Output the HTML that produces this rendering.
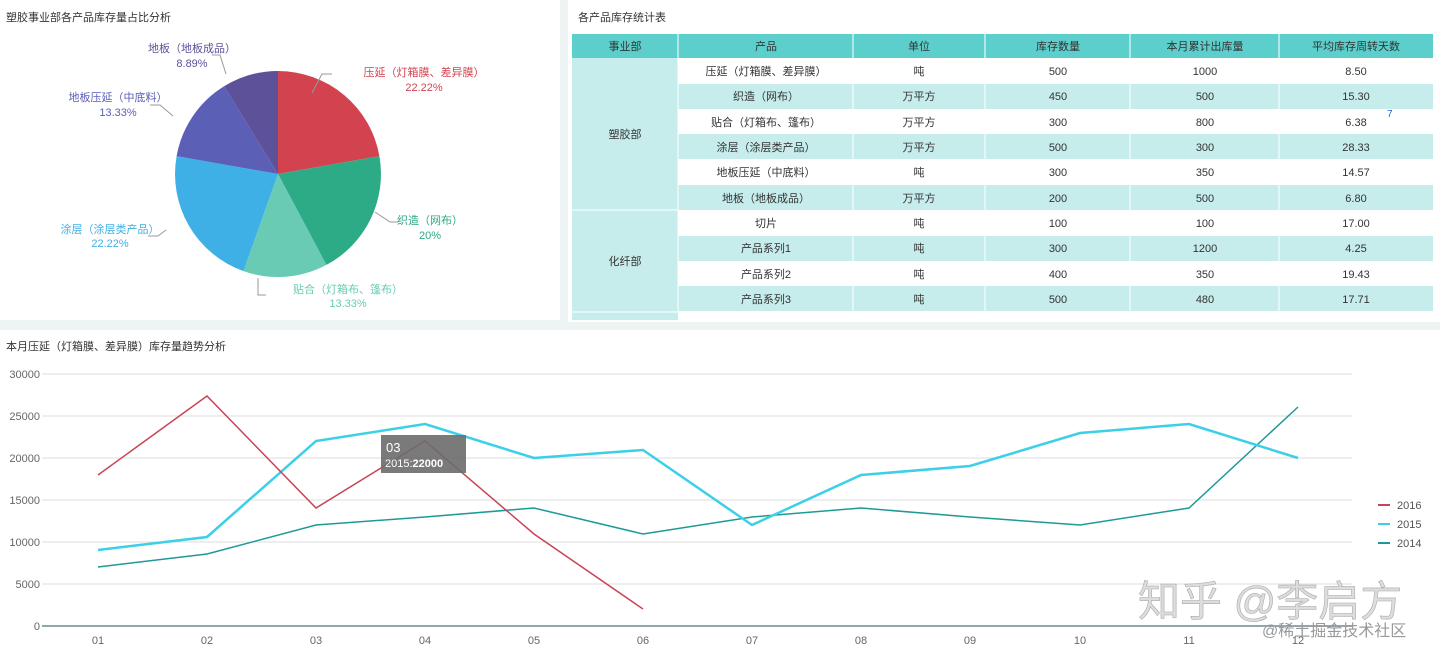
<!DOCTYPE html>
<html><head><meta charset="utf-8"><style>
body{margin:0;width:1440px;height:658px;background:#eef3f4;overflow:hidden;font-family:"Liberation Sans","Noto Sans CJK SC",sans-serif;}
</style></head><body>
<svg width="1440" height="658" xmlns="http://www.w3.org/2000/svg" style="position:absolute;left:0;top:0;font-family:'Liberation Sans','Noto Sans CJK SC',sans-serif">
<rect x="0" y="0" width="560" height="320" fill="#fff"/>
<rect x="568" y="0" width="872" height="322" fill="#fff"/>
<rect x="0" y="330" width="1440" height="328" fill="#fff"/>
<text x="6" y="21" font-size="11" fill="#333">塑胶事业部各产品库存量占比分析</text>
<text x="578" y="21" font-size="11" fill="#333">各产品库存统计表</text>
<text x="6" y="350" font-size="11" fill="#333">本月压延（灯箱膜、差异膜）库存量趋势分析</text>
<g transform="translate(278,174)">
<path d="M0,0 L0,-103 A103,103 0 0 1 101.4,-17.9 Z" fill="#d2434f"/>
<path d="M0,0 L101.4,-17.9 A103,103 0 0 1 48.4,90.9 Z" fill="#2daa86"/>
<path d="M0,0 L48.4,90.9 A103,103 0 0 1 -34.5,97.1 Z" fill="#6acbb4"/>
<path d="M0,0 L-34.5,97.1 A103,103 0 0 1 -101.4,-17.9 Z" fill="#3fb0e6"/>
<path d="M0,0 L-101.4,-17.9 A103,103 0 0 1 -53.9,-87.7 Z" fill="#5b5fb5"/>
<path d="M0,0 L-53.9,-87.7 A103,103 0 0 1 0,-103 Z" fill="#5d519a"/>
</g>
<g fill="none" stroke="#999" stroke-width="1">
<polyline points="312,93 322,74 332,74"/>
<polyline points="375,212 390,222 398,222"/>
<polyline points="258,278 258,295 266,295"/>
<polyline points="166,230 158,236 148,236"/>
<polyline points="173,116 160,105 150,105"/>
<polyline points="226,74 220,55 212,55"/>
</g>
<g font-size="11" text-anchor="middle">
<text x="424" y="76" fill="#d2434f">压延（灯箱膜、差异膜）</text><text x="424" y="91" fill="#d2434f">22.22%</text>
<text x="430" y="224" fill="#2daa86">织造（网布）</text><text x="430" y="239" fill="#2daa86">20%</text>
<text x="348" y="293" fill="#6acbb4">贴合（灯箱布、篷布）</text><text x="348" y="307" fill="#6acbb4">13.33%</text>
<text x="110" y="233" fill="#3fb0e6">涂层（涂层类产品）</text><text x="110" y="247" fill="#3fb0e6">22.22%</text>
<text x="118" y="101" fill="#5b5fb5">地板压延（中底料）</text><text x="118" y="116" fill="#5b5fb5">13.33%</text>
<text x="192" y="52" fill="#5d519a">地板（地板成品）</text><text x="192" y="67" fill="#5d519a">8.89%</text>
</g>
<rect x="572" y="34" width="861" height="24" fill="#5ccfcc"/>
<rect x="572" y="58" width="106" height="262" fill="#c7ecec"/>
<g fill="#c7ecec">
<rect x="678" y="84" width="755" height="25"/><rect x="678" y="134" width="755" height="25"/><rect x="678" y="185" width="755" height="25"/>
<rect x="678" y="236" width="755" height="25"/><rect x="678" y="286" width="755" height="25"/>
</g>
<line x1="572" y1="210" x2="678" y2="210" stroke="#fff"/>
<line x1="572" y1="312" x2="678" y2="312" stroke="#fff"/>
<g stroke="#fff" stroke-width="1">
<line x1="678" y1="34" x2="678" y2="312"/><line x1="853" y1="34" x2="853" y2="312"/><line x1="985" y1="34" x2="985" y2="312"/>
<line x1="1130" y1="34" x2="1130" y2="312"/><line x1="1279" y1="34" x2="1279" y2="312"/>
</g>
<g font-size="11" fill="#333" text-anchor="middle">
<text x="625" y="50">事业部</text><text x="766" y="50">产品</text><text x="919" y="50">单位</text><text x="1058" y="50">库存数量</text><text x="1205" y="50">本月累计出库量</text><text x="1356" y="50">平均库存周转天数</text>
<text x="625" y="138">塑胶部</text><text x="625" y="265">化纤部</text>
<text x="766" y="75">压延（灯箱膜、差异膜）</text><text x="919" y="75">吨</text><text x="1058" y="75">500</text><text x="1205" y="75">1000</text><text x="1356" y="75">8.50</text>
<text x="766" y="100">织造（网布）</text><text x="919" y="100">万平方</text><text x="1058" y="100">450</text><text x="1205" y="100">500</text><text x="1356" y="100">15.30</text>
<text x="766" y="126">贴合（灯箱布、篷布）</text><text x="919" y="126">万平方</text><text x="1058" y="126">300</text><text x="1205" y="126">800</text><text x="1356" y="126">6.38</text>
<text x="766" y="151">涂层（涂层类产品）</text><text x="919" y="151">万平方</text><text x="1058" y="151">500</text><text x="1205" y="151">300</text><text x="1356" y="151">28.33</text>
<text x="766" y="176">地板压延（中底料）</text><text x="919" y="176">吨</text><text x="1058" y="176">300</text><text x="1205" y="176">350</text><text x="1356" y="176">14.57</text>
<text x="766" y="202">地板（地板成品）</text><text x="919" y="202">万平方</text><text x="1058" y="202">200</text><text x="1205" y="202">500</text><text x="1356" y="202">6.80</text>
<text x="766" y="227">切片</text><text x="919" y="227">吨</text><text x="1058" y="227">100</text><text x="1205" y="227">100</text><text x="1356" y="227">17.00</text>
<text x="766" y="252">产品系列1</text><text x="919" y="252">吨</text><text x="1058" y="252">300</text><text x="1205" y="252">1200</text><text x="1356" y="252">4.25</text>
<text x="766" y="278">产品系列2</text><text x="919" y="278">吨</text><text x="1058" y="278">400</text><text x="1205" y="278">350</text><text x="1356" y="278">19.43</text>
<text x="766" y="303">产品系列3</text><text x="919" y="303">吨</text><text x="1058" y="303">500</text><text x="1205" y="303">480</text><text x="1356" y="303">17.71</text>
</g>
<text x="1387" y="117" font-size="10" fill="#2266cc">7</text>
<g stroke="#ddd" stroke-width="1">
<line x1="42" y1="374" x2="1352" y2="374"/><line x1="42" y1="416" x2="1352" y2="416"/><line x1="42" y1="458" x2="1352" y2="458"/>
<line x1="42" y1="500" x2="1352" y2="500"/><line x1="42" y1="542" x2="1352" y2="542"/><line x1="42" y1="584" x2="1352" y2="584"/>
</g>
<line x1="42" y1="626" x2="1352" y2="626" stroke="#6b8a9a" stroke-width="1.5"/>
<g font-size="11" fill="#666" text-anchor="end">
<text x="40" y="378">30000</text><text x="40" y="420">25000</text><text x="40" y="462">20000</text><text x="40" y="504">15000</text><text x="40" y="546">10000</text><text x="40" y="588">5000</text><text x="40" y="630">0</text>
</g>
<g font-size="11" fill="#666" text-anchor="middle">
<text x="98" y="644">01</text><text x="207" y="644">02</text><text x="316" y="644">03</text><text x="425" y="644">04</text><text x="534" y="644">05</text><text x="643" y="644">06</text>
<text x="752" y="644">07</text><text x="861" y="644">08</text><text x="970" y="644">09</text><text x="1080" y="644">10</text><text x="1189" y="644">11</text><text x="1298" y="644">12</text>
</g>
<polyline fill="none" stroke="#1e9a96" stroke-width="1.5" points="98,567 207,554 316,525 425,517 534,508 643,534 752,517 861,508 970,517 1080,525 1189,508 1298,407"/>
<polyline fill="none" stroke="#3ccfe8" stroke-width="2.5" points="98,550 207,537 316,441 425,424 534,458 643,450 752,525 861,475 970,466 1080,433 1189,424 1298,458"/>
<polyline fill="none" stroke="#c94455" stroke-width="1.5" points="98,475 207,396 316,508 425,441 534,534 643,609"/>
<rect x="381" y="435" width="85" height="38" fill="#6b6b6b" opacity="0.9"/>
<text x="386" y="452" font-size="13" fill="#fff">03</text>
<text x="385" y="467" font-size="11" fill="#fff">2015:<tspan font-weight="bold">22000</tspan></text>
<g font-size="11" fill="#555">
<line x1="1378" y1="505" x2="1390" y2="505" stroke="#c94455" stroke-width="2"/><text x="1397" y="509">2016</text>
<line x1="1378" y1="524" x2="1390" y2="524" stroke="#3ccfe8" stroke-width="2"/><text x="1397" y="528">2015</text>
<line x1="1378" y1="543" x2="1390" y2="543" stroke="#1e9a96" stroke-width="2"/><text x="1397" y="547">2014</text>
</g>
<text x="1138" y="616" font-size="42" fill="#ddd" stroke="#aaa" stroke-width="0.6">知乎 @李启方</text>
<text x="1262" y="636" font-size="16" fill="#999">@稀土掘金技术社区</text>
</svg>
</body></html>
